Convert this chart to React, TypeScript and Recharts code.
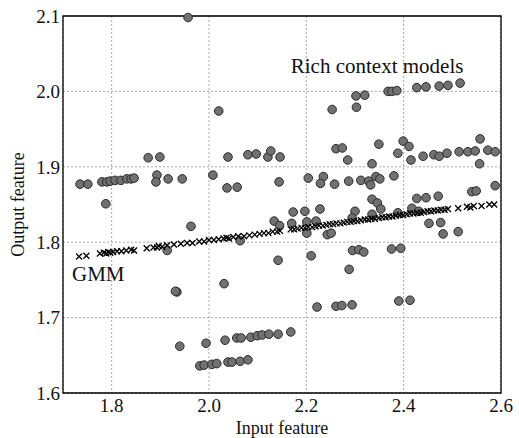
import React from 'react';
import {CartesianGrid, ReferenceArea, ReferenceDot, Scatter, ScatterChart, XAxis, YAxis} from 'recharts';

const xTicks = [1.8, 2.0, 2.2, 2.4, 2.6];
const yTicks = [1.6, 1.7, 1.8, 1.9, 2.0, 2.1];

// rich context models, grouped roughly by height
const richTop: [number, number][] = [
    [1.957, 2.098], [2.020, 1.974], [2.253, 1.976], [2.302, 1.994], [2.320, 1.995], [2.303, 1.979],
    [2.368, 2.000], [2.376, 2.000], [2.386, 2.001], [2.427, 2.005], [2.446, 2.006], [2.473, 2.007],
    [2.491, 2.008], [2.516, 2.011],
];
const richUpper: [number, number][] = [
    [1.875, 1.912], [1.899, 1.913], [2.039, 1.913], [2.080, 1.916], [2.097, 1.917], [2.121, 1.913],
    [2.127, 1.921], [2.146, 1.913], [2.261, 1.924], [2.274, 1.925], [2.285, 1.909], [2.349, 1.930],
    [2.335, 1.904], [2.399, 1.934], [2.411, 1.927], [2.388, 1.918], [2.415, 1.909], [2.440, 1.914],
    [2.462, 1.916], [2.473, 1.914], [2.489, 1.918], [2.514, 1.920], [2.532, 1.920], [2.547, 1.921],
    [2.557, 1.937], [2.556, 1.904], [2.573, 1.922], [2.588, 1.920],
];
const richMiddle: [number, number][] = [
    [1.735, 1.877], [1.751, 1.877], [1.780, 1.880], [1.790, 1.880], [1.797, 1.881], [1.807, 1.882],
    [1.819, 1.882], [1.831, 1.884], [1.840, 1.884], [1.846, 1.885], [1.788, 1.851], [1.893, 1.889],
    [1.891, 1.880], [1.916, 1.884], [1.945, 1.884], [2.008, 1.889], [2.037, 1.872], [2.058, 1.873],
    [2.144, 1.880], [2.204, 1.885], [2.235, 1.887], [2.229, 1.878], [2.258, 1.877], [2.287, 1.881],
    [2.312, 1.882], [2.328, 1.881], [2.343, 1.887], [2.351, 1.884], [2.332, 1.876], [2.380, 1.888],
    [2.588, 1.875], [2.540, 1.867], [2.549, 1.868], [2.427, 1.858], [2.446, 1.859], [2.471, 1.861],
    [2.335, 1.857], [2.346, 1.852], [2.353, 1.844], [2.173, 1.840], [2.197, 1.841], [2.228, 1.844],
    [2.300, 1.841], [2.335, 1.837], [2.388, 1.839], [2.417, 1.845], [2.431, 1.841],
];
const richNearLine: [number, number][] = [
    [1.963, 1.821], [2.134, 1.828], [2.145, 1.822], [2.170, 1.825], [2.201, 1.827], [2.220, 1.828],
    [2.201, 1.812], [2.243, 1.810], [2.251, 1.812], [2.294, 1.832], [2.452, 1.825], [2.476, 1.826],
    [2.481, 1.811], [2.512, 1.814], [1.914, 1.789], [2.064, 1.802], [2.142, 1.776], [2.210, 1.782],
    [2.295, 1.789], [2.308, 1.790], [2.318, 1.787], [2.288, 1.764], [2.375, 1.791], [2.394, 1.792],
];
const richLower: [number, number][] = [
    [1.934, 1.734], [1.931, 1.735], [2.031, 1.745], [2.222, 1.714], [2.261, 1.715], [2.273, 1.716],
    [2.294, 1.717], [2.390, 1.722], [2.413, 1.723], [1.940, 1.662], [1.994, 1.666], [2.033, 1.670],
    [2.057, 1.673], [2.066, 1.673], [2.086, 1.674], [2.099, 1.676], [2.109, 1.677], [2.123, 1.678],
    [2.142, 1.678], [2.168, 1.681], [1.981, 1.636], [1.990, 1.637], [2.006, 1.638], [2.016, 1.639],
    [2.039, 1.641], [2.047, 1.641], [2.064, 1.642], [2.080, 1.644],
];

// GMM predictions
const gmm: [number, number][] = [
    [1.733, 1.781], [1.748, 1.782], [1.776, 1.785], [1.784, 1.786], [1.789, 1.785], [1.793, 1.787],
    [1.797, 1.786], [1.803, 1.787], [1.811, 1.788], [1.820, 1.788], [1.830, 1.789], [1.840, 1.790],
    [1.846, 1.789], [1.872, 1.792], [1.886, 1.793], [1.893, 1.793], [1.897, 1.795], [1.904, 1.794],
    [1.914, 1.796], [1.928, 1.797], [1.942, 1.798], [1.955, 1.799], [1.966, 1.799], [1.980, 1.801],
    [1.990, 1.801], [2.000, 1.803], [2.010, 1.803], [2.020, 1.804], [2.030, 1.805], [2.036, 1.806],
    [2.041, 1.805], [2.050, 1.807], [2.060, 1.808], [2.072, 1.808], [2.083, 1.809], [2.094, 1.810],
    [2.104, 1.811], [2.113, 1.812], [2.122, 1.812], [2.131, 1.814], [2.140, 1.814], [2.146, 1.815],
    [2.168, 1.817], [2.175, 1.817], [2.182, 1.818], [2.190, 1.819], [2.197, 1.819], [2.204, 1.820],
    [2.212, 1.820], [2.219, 1.821], [2.226, 1.822], [2.234, 1.822], [2.241, 1.823], [2.248, 1.824],
    [2.255, 1.824], [2.262, 1.825], [2.270, 1.825], [2.277, 1.826], [2.284, 1.827], [2.291, 1.827],
    [2.298, 1.828], [2.305, 1.828], [2.312, 1.829], [2.320, 1.830], [2.327, 1.830], [2.334, 1.831],
    [2.341, 1.831], [2.349, 1.832], [2.356, 1.833], [2.363, 1.833], [2.370, 1.834], [2.377, 1.834],
    [2.384, 1.835], [2.392, 1.836], [2.399, 1.836], [2.406, 1.837], [2.413, 1.838], [2.420, 1.838],
    [2.428, 1.839], [2.435, 1.839], [2.442, 1.840], [2.449, 1.841], [2.456, 1.841], [2.463, 1.842],
    [2.470, 1.842], [2.477, 1.843], [2.484, 1.843], [2.491, 1.844], [2.512, 1.845], [2.530, 1.847],
    [2.537, 1.846], [2.544, 1.848], [2.560, 1.848], [2.576, 1.850], [2.586, 1.850],
];

const font = '"Liberation Serif", "DejaVu Serif", serif';

const toPoints = (pts: [number, number][]) => pts.map(([x, y]) => ({x, y}));
const richPoints = toPoints([...richTop, ...richUpper, ...richMiddle, ...richNearLine, ...richLower]);
const gmmPoints = toPoints(gmm);

const Dot = (props: any) => (
    <circle cx={props.cx} cy={props.cy} r={4.3} fill="#717171" stroke="#2a2a2a" strokeWidth={1} />
);

const Cross = (props: any) => {
    const {cx, cy} = props;
    const s = 3;
    return (
        <path
            d={`M${cx - s},${cy - s}L${cx + s},${cy + s}M${cx - s},${cy + s}L${cx + s},${cy - s}`}
            stroke="#000"
            strokeWidth={1.3}
            fill="none"
        />
    );
};

const note = (text: string) => (props: any) => (
    <text x={props.cx} y={props.cy} fontFamily={font} fontSize={21} fill="#111">
        {text}
    </text>
);

const App = () => {
    return (
        <div style={{position: 'absolute', left: 0, top: 0}}>
            <ScatterChart width={519} height={438} margin={{top: 16, right: 18, left: 10, bottom: 15}}>
                <CartesianGrid stroke="#a8a8a8" strokeDasharray="2 2" />
                <XAxis
                    type="number"
                    dataKey="x"
                    domain={[1.7, 2.6]}
                    ticks={xTicks}
                    tickFormatter={(v: number) => v.toFixed(1)}
                    axisLine={false}
                    tickLine={false}
                    tickSize={0}
                    tickMargin={6}
                    height={30}
                    tick={{fill: '#111', fontSize: 19, fontFamily: font}}
                    label={{value: 'Input feature', position: 'insideBottom', offset: -11, fill: '#111', fontSize: 18, fontFamily: font}}
                />
                <YAxis
                    type="number"
                    dataKey="y"
                    domain={[1.6, 2.1]}
                    ticks={yTicks}
                    tickFormatter={(v: number) => v.toFixed(1)}
                    axisLine={false}
                    tickLine={false}
                    tickSize={0}
                    tickMargin={3}
                    width={53}
                    tick={{fill: '#111', fontSize: 19, fontFamily: font}}
                    label={{value: 'Output feature', angle: -90, position: 'insideLeft', offset: 8, fill: '#111', fontSize: 18, fontFamily: font, style: {textAnchor: 'middle'}}}
                />
                <ReferenceArea x1={1.7} x2={2.6} y1={1.6} y2={2.1} fill="none" stroke="#000" strokeWidth={1.3} />
                <Scatter data={richPoints} shape={Dot} isAnimationActive={false} />
                <Scatter data={gmmPoints} shape={Cross} isAnimationActive={false} />
                <ReferenceDot x={2.168} y={2.0244} r={0} shape={note('Rich context models')} />
                <ReferenceDot x={1.7185} y={1.7485} r={0} shape={note('GMM')} />
            </ScatterChart>
        </div>
    );
};

export default App;
